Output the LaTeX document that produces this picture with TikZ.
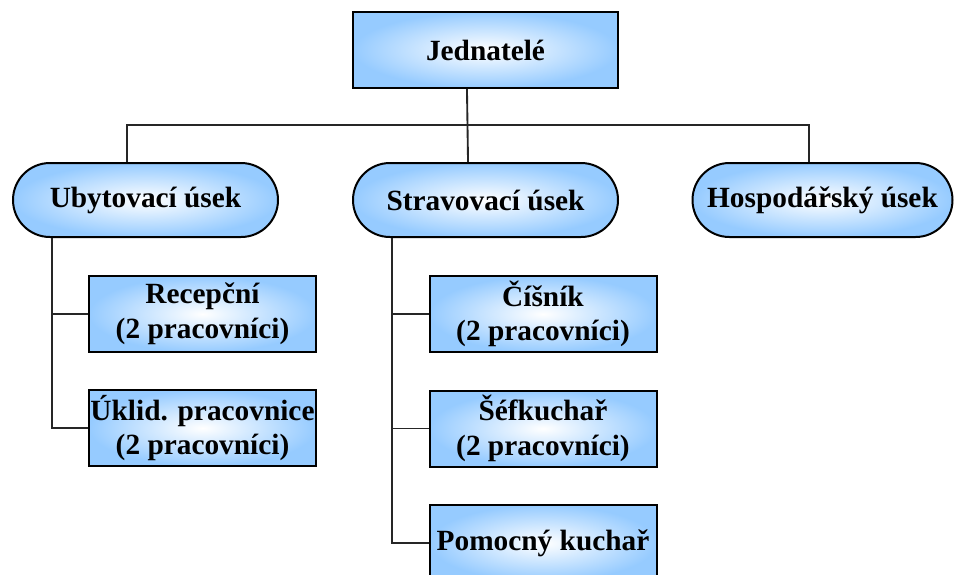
\documentclass[tikz,border=0pt]{standalone}
\usepackage{fontspec}
\setmainfont{Liberation Serif}
\definecolor{boxblue}{RGB}{150,203,255}
\tikzset{
	unit/.style={draw=black, line width=1.5pt, inner color=white, outer color=boxblue, inner sep=0pt, align=center, font=\bfseries\fontsize{22}{26}\selectfont},
	head/.style={unit, minimum width=198.75pt, minimum height=57pt},
	usek/.style={unit, rounded corners=27.75pt, minimum width=198.75pt, minimum height=55.5pt},
	worker/.style={unit, minimum width=170.25pt, minimum height=57pt},
	wire/.style={line width=1.4pt, black!85}
}

\begin{document}
\begin{tikzpicture}[x=0.75pt, y=-0.75pt]
	\useasboundingbox (0, 0) rectangle (954, 575);
	\clip (0, 0) rectangle (954, 575);

	\node[head] at (485.5, 50) (jed) {Jednatelé};

	\node[usek] at (145.5, 200) (uby) {Ubytovací úsek};
	\node[usek] at (485.5, 200) (strav) {Stravovací úsek};
	\node[usek, minimum width=195pt] at (822.5, 200) (hosp) {Hospodářský úsek};

	\node[worker] at (202.5, 314) (rec) {Recepční\\(2 pracovníci)};
	\node[worker] at (202.5, 428) (ukl) {Úklid. pracovnice\\(2 pracovníci)};

	\node[worker] at (543, 314) (cis) {Číšník\\(2 pracovníci)};
	\node[worker] at (543, 428.5) (sef) {Šéfkuchař\\(2 pracovníci)};
	\node[worker] at (543, 543) (pom) {Pomocný kuchař};

	\coordinate (ubyleg) at ([xshift=-70pt]uby.south);
	\coordinate (stravleg) at ([xshift=-70pt]strav.south);

	\begin{scope}[wire]
		\draw ([xshift=-13.9pt]jed.south) -- ([xshift=-13.1pt]strav.north);
		\draw ([xshift=-13.9pt]uby.north) -- ++(0, -37) -| ([xshift=-10pt]hosp.north);

		\draw (ubyleg) |- (ukl.west);
		\draw (rec.west) -- (rec.west -| ubyleg);

		\draw (stravleg) |- (pom.west);
		\draw (cis.west) -- (cis.west -| stravleg);
		\draw (sef.west) -- (sef.west -| stravleg);
	\end{scope}
\end{tikzpicture}
\end{document}
